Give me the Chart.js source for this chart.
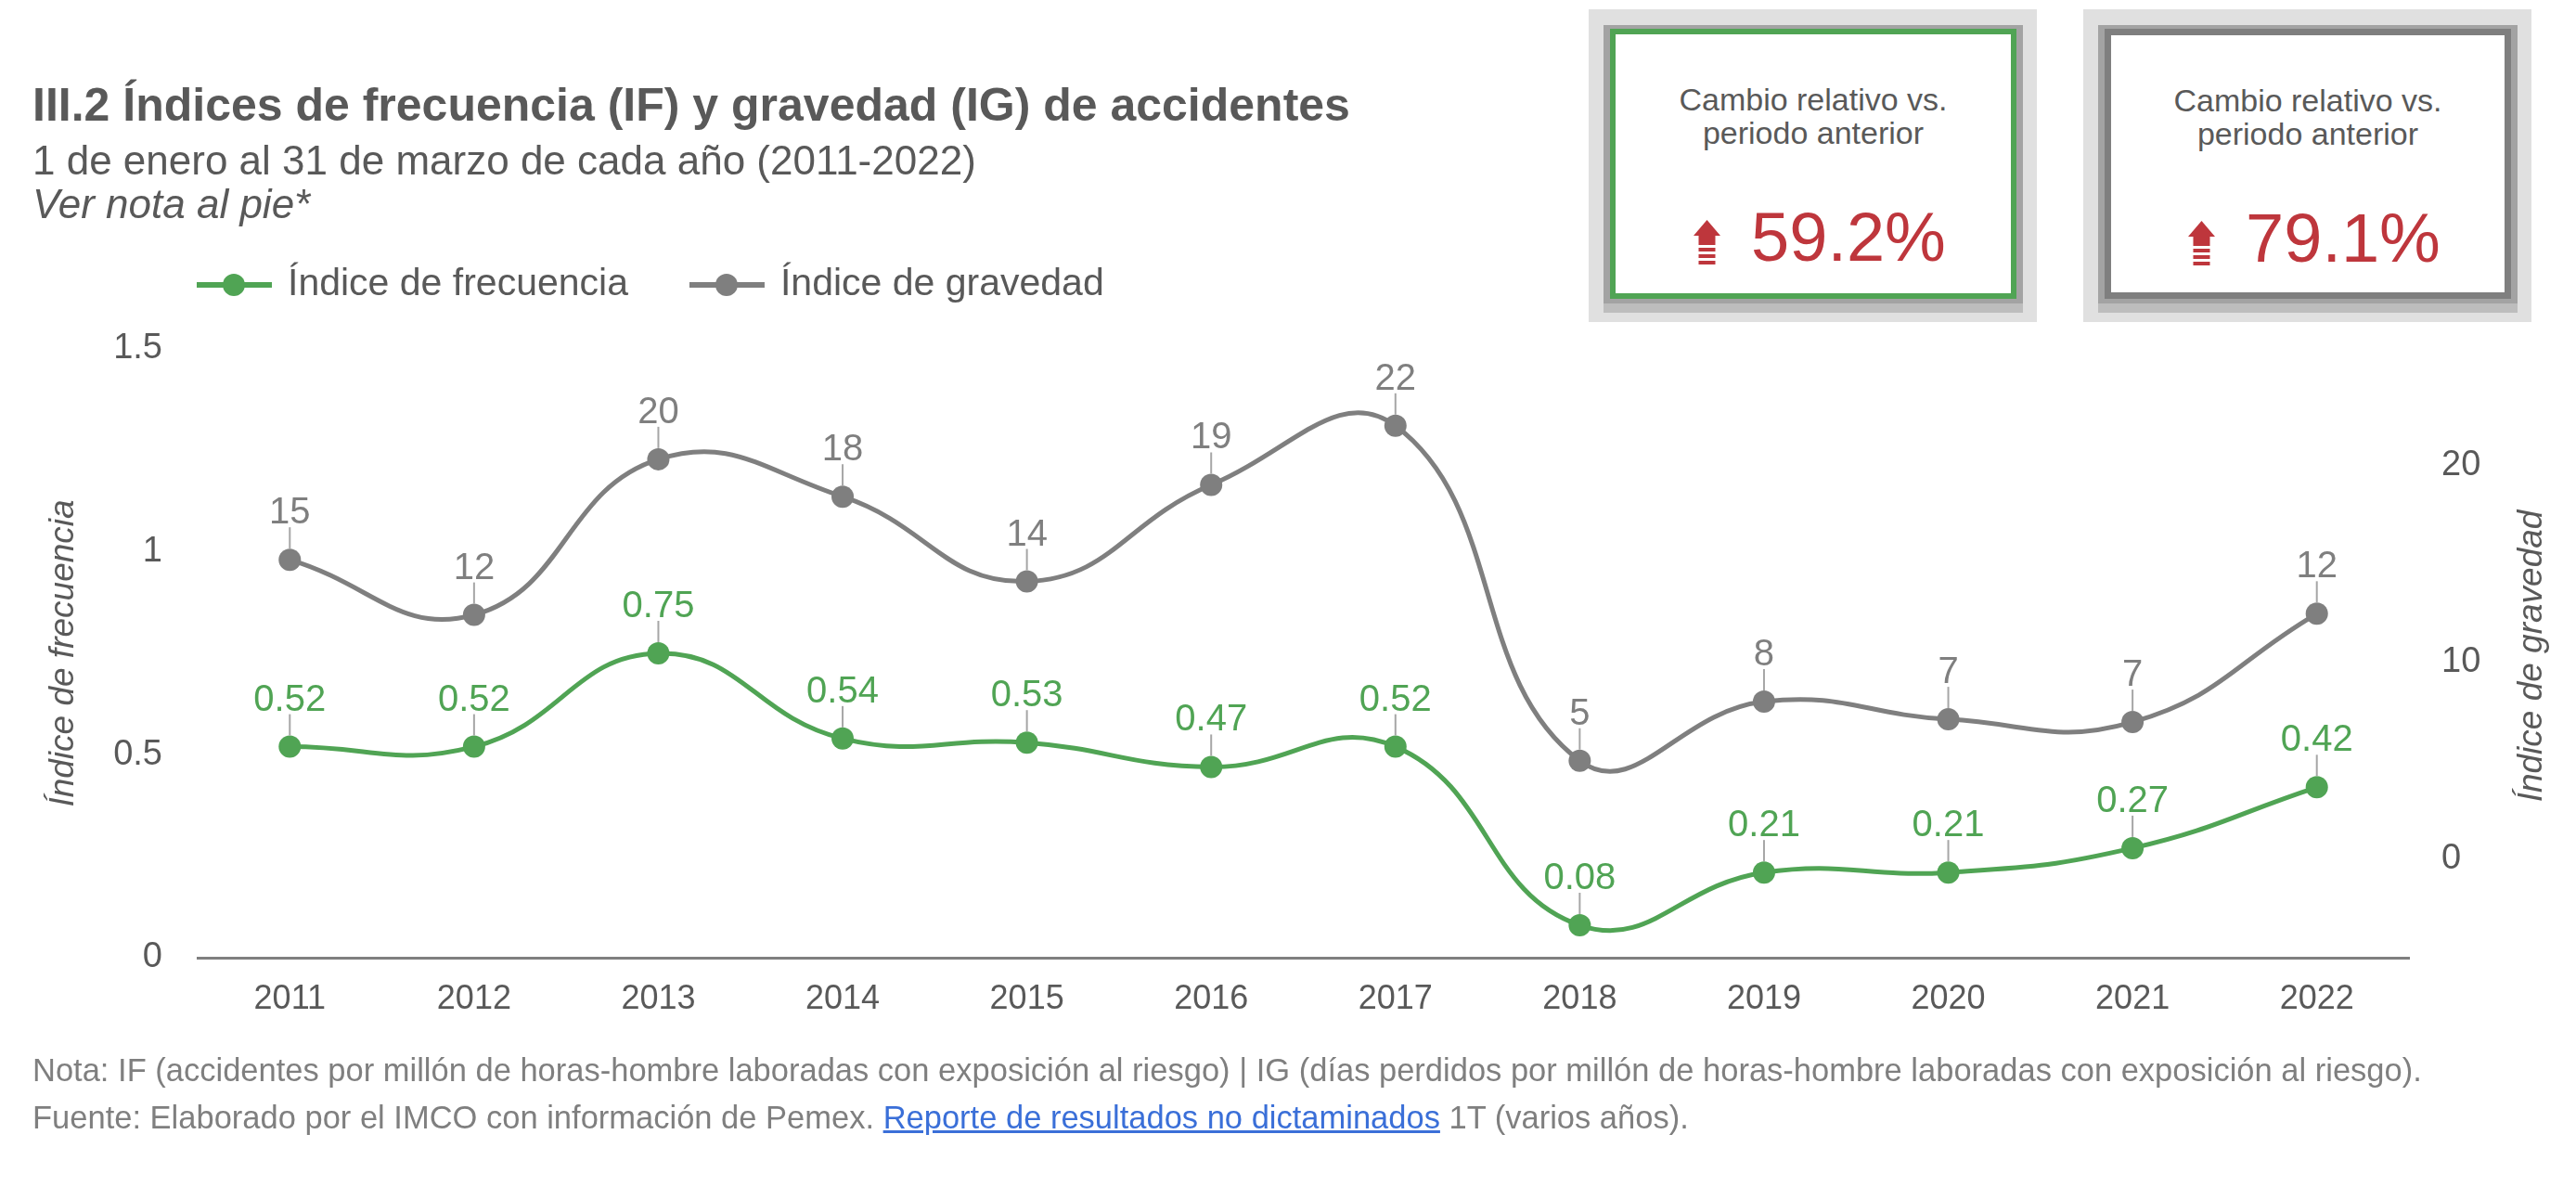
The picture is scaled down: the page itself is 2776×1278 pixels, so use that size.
<!DOCTYPE html>
<html lang="es">
<head>
<meta charset="utf-8">
<title>III.2 Índices de frecuencia y gravedad de accidentes</title>
<script src="https://cdn.jsdelivr.net/npm/chart.js@4.4.1/dist/chart.umd.min.js"></script>
<style>
  html, body { margin: 0; padding: 0; background: #fff; }
  body {
    width: 2776px; height: 1278px; position: relative; overflow: hidden;
    font-family: "Liberation Sans", Arial, Helvetica, sans-serif; color: #595959;
  }
  .chart-box { position: absolute; left: 0; top: 0; width: 2776px; height: 1278px; }
  .txt { position: absolute; white-space: nowrap; }
  .title { left: 35px; top: 88px; font-size: 50px; line-height: 50px; font-weight: bold; }
  .subtitle { left: 35px; top: 151px; font-size: 44px; line-height: 44px; }
  .note { left: 35px; top: 198px; font-size: 44px; line-height: 44px; font-style: italic; }
  .foot { left: 35px; font-size: 34.5px; line-height: 34.5px; color: #7f7f7f; }
  .foot a { color: #3a6fd8; text-decoration: underline; }

  .card { position: absolute; top: 10px; width: 483px; height: 337px; background: #e0e0e0; }
  .card .shade { position: absolute; left: 16px; top: 17px; width: 452px; height: 300px; background: #a3a3a3; }
  .card .shade2 { position: absolute; left: 16px; top: 317px; width: 452px; height: 10px; background: #bdbdbd; }
  .card .frame {
    position: absolute; left: 23px; top: 21px; width: 438px; height: 291px;
    box-sizing: border-box; background: #fff; border: 6px solid #50a454;
  }
  .card.grey .frame { border: 7px solid #7f7f7f; }
  .card .cap {
    position: absolute; left: 0; right: 0; top: 52px; text-align: center;
    font-size: 34px; line-height: 36px; color: #595959;
  }
  .card .pct {
    position: absolute; left: 0; right: 0; top: 182px; padding-left: 14px; text-align: center;
    font-size: 74px; line-height: 74px; color: #be363c; white-space: nowrap;
  }
  .card .pct svg { display: inline-block; vertical-align: -4px; margin-right: 33px; }
</style>
</head>
<body>

<div class="chart-box"><canvas id="accChart"></canvas></div>

<div class="txt title">III.2 Índices de frecuencia (IF) y gravedad (IG) de accidentes</div>
<div class="txt subtitle">1 de enero al 31 de marzo de cada año (2011-2022)</div>
<div class="txt note">Ver nota al pie*</div>

<div class="card" style="left:1712px">
  <div class="shade"></div><div class="shade2"></div>
  <div class="frame">
    <div class="cap">Cambio relativo vs.<br>periodo anterior</div>
    <div class="pct"><svg width="29" height="48" viewBox="0 0 29 48"><polygon points="14.5,0 29,17 0,17" fill="#be363c"/><rect x="5.5" y="16" width="18" height="11" fill="#be363c"/><rect x="5.5" y="30" width="18" height="4" fill="#be363c"/><rect x="5.5" y="37" width="18" height="4" fill="#be363c"/><rect x="5.5" y="44" width="18" height="4" fill="#be363c"/></svg>59.2%</div>
  </div>
</div>

<div class="card grey" style="left:2245px">
  <div class="shade"></div><div class="shade2"></div>
  <div class="frame">
    <div class="cap">Cambio relativo vs.<br>periodo anterior</div>
    <div class="pct"><svg width="29" height="48" viewBox="0 0 29 48"><polygon points="14.5,0 29,17 0,17" fill="#be363c"/><rect x="5.5" y="16" width="18" height="11" fill="#be363c"/><rect x="5.5" y="30" width="18" height="4" fill="#be363c"/><rect x="5.5" y="37" width="18" height="4" fill="#be363c"/><rect x="5.5" y="44" width="18" height="4" fill="#be363c"/></svg>79.1%</div>
  </div>
</div>

<div class="txt foot" style="top:1136px">Nota: IF (accidentes por millón de horas-hombre laboradas con exposición al riesgo) | IG (días perdidos por millón de horas-hombre laboradas con exposición al riesgo).</div>
<div class="txt foot" style="top:1187px">Fuente: Elaborado por el IMCO con información de Pemex. <a href="#">Reporte de resultados no dictaminados</a> 1T (varios años).</div>

<script>
// Data
const years = ['2011', '2012', '2013', '2014', '2015', '2016', '2017', '2018', '2019', '2020', '2021', '2022'];
const frecuencia = [0.52, 0.52, 0.75, 0.54, 0.53, 0.47, 0.52, 0.08, 0.21, 0.21, 0.27, 0.42];
const gravedad = [15.2, 12.4, 20.3, 18.4, 14.1, 19.0, 22.0, 5.0, 8.0, 7.1, 6.96, 12.46];
const leftTicks = [0, 0.5, 1, 1.5];
const rightTicks = [0, 10, 20];
const seriesNames = ['Índice de frecuencia', 'Índice de gravedad'];

const GREEN = '#50a454';
const GREY = '#7f7f7f';
const TEXT = '#595959';
const FONT = '"Liberation Sans", Arial, Helvetica, sans-serif';

Chart.defaults.font.family = FONT;

// value labels with a small leader line above every point
const pointLabels = {
    id: 'pointLabels',
    afterDatasetsDraw(chart) {
        const ctx = chart.ctx;
        ctx.save();
        chart.data.datasets.forEach((ds, i) => {
            const meta = chart.getDatasetMeta(i);
            meta.data.forEach((pt, j) => {
                ctx.strokeStyle = '#a6a6a6';
                ctx.lineWidth = 2;
                ctx.beginPath();
                ctx.moveTo(pt.x, pt.y - 12);
                ctx.lineTo(pt.x, pt.y - 35);
                ctx.stroke();
                ctx.fillStyle = ds.borderColor;
                ctx.font = '40px ' + FONT;
                ctx.textAlign = 'center';
                ctx.textBaseline = 'alphabetic';
                ctx.fillText(ds.valueText(ds.data[j]), pt.x, pt.y - 39);
            });
        });
        ctx.restore();
    }
};

// legend: line with a dot, as in the original
const lineLegend = {
    id: 'lineLegend',
    afterDraw(chart) {
        const ctx = chart.ctx;
        let x = 212;
        const y = 307;
        ctx.save();
        ctx.font = '41px ' + FONT;
        ctx.textBaseline = 'middle';
        ctx.textAlign = 'left';
        chart.data.datasets.forEach(ds => {
            ctx.strokeStyle = ds.borderColor;
            ctx.lineWidth = 6;
            ctx.beginPath();
            ctx.moveTo(x, y);
            ctx.lineTo(x + 81, y);
            ctx.stroke();
            ctx.fillStyle = ds.borderColor;
            ctx.beginPath();
            ctx.arc(x + 40, y, 12, 0, Math.PI * 2);
            ctx.fill();
            ctx.fillStyle = TEXT;
            ctx.fillText(ds.label, x + 98, y);
            x += 98 + ctx.measureText(ds.label).width + 66;
        });
        ctx.restore();
    }
};

// right axis title reads bottom-to-top like the left one
const rightTitle = {
    id: 'rightTitle',
    afterDraw(chart) {
        const s = chart.scales.y1;
        const ctx = chart.ctx;
        ctx.save();
        ctx.translate(s.right - 47, (chart.chartArea.top + chart.chartArea.bottom) / 2 + 3);
        ctx.rotate(-Math.PI / 2);
        ctx.font = 'italic 37px ' + FONT;
        ctx.fillStyle = TEXT;
        ctx.textAlign = 'center';
        ctx.textBaseline = 'middle';
        ctx.fillText(seriesNames[1], 0, 0);
        ctx.restore();
    }
};

const canvas = document.getElementById('accChart');
const chart = new Chart(canvas, {
    type: 'line',
    data: {
        labels: years,
        datasets: [{
            label: seriesNames[0],
            data: frecuencia,
            yAxisID: 'y',
            borderColor: GREEN,
            backgroundColor: GREEN,
            borderWidth: 5,
            tension: 0.45,
            pointRadius: 12,
            pointBorderWidth: 0,
            pointBackgroundColor: GREEN,
            valueText: v => v.toFixed(2)
        }, {
            label: seriesNames[1],
            data: gravedad,
            yAxisID: 'y1',
            borderColor: GREY,
            backgroundColor: GREY,
            borderWidth: 5,
            tension: 0.45,
            pointRadius: 12,
            pointBorderWidth: 0,
            pointBackgroundColor: GREY,
            valueText: v => String(Math.round(v))
        }]
    },
    options: {
        responsive: true,
        maintainAspectRatio: false,
        animation: false,
        devicePixelRatio: 1,
        layout: { padding: { top: 376, left: 0, right: 0, bottom: 0 } },
        plugins: {
            legend: { display: false },
            tooltip: { enabled: false }
        },
        scales: {
            x: {
                type: 'category',
                offset: true,
                grid: { display: false, drawTicks: false },
                border: { display: true, color: GREY, width: 3 },
                ticks: { color: TEXT, font: { size: 36 }, padding: 23, autoSkip: false, maxRotation: 0 },
                afterFit(s) { s.height = 246; }
            },
            y: {
                position: 'left',
                min: 0,
                max: 1.5,
                grid: { display: false, drawTicks: false },
                border: { display: false },
                ticks: { color: TEXT, font: { size: 38 }, padding: 38, callback: v => String(v) },
                afterBuildTicks(s) { s.ticks = leftTicks.map(v => ({ value: v })); },
                title: {
                    display: true,
                    text: seriesNames[0],
                    color: TEXT,
                    font: { size: 37, style: 'italic' },
                    padding: { top: 47, bottom: 0 }
                },
                afterFit(s) { s.width = 213; }
            },
            y1: {
                position: 'right',
                min: -5,
                max: 25.9,
                grid: { display: false, drawTicks: false },
                border: { display: false },
                ticks: { color: TEXT, font: { size: 38 }, padding: 35, callback: v => String(v) },
                afterBuildTicks(s) { s.ticks = rightTicks.map(v => ({ value: v })); },
                afterFit(s) { s.width = 180; }
            }
        }
    },
    plugins: [pointLabels, lineLegend, rightTitle]
});
</script>
</body>
</html>
